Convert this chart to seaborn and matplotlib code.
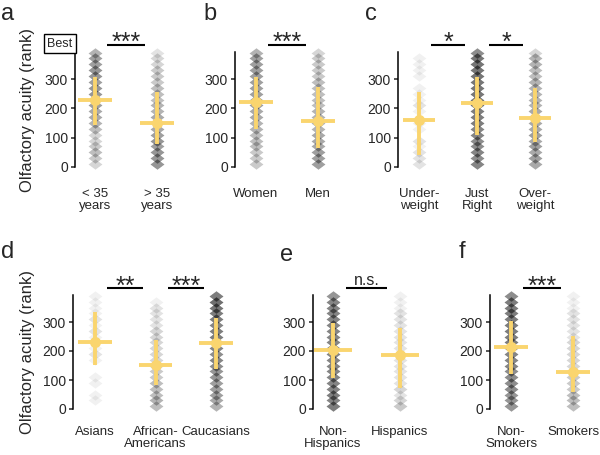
import numpy as np
import pandas as pd
import matplotlib
matplotlib.use("Agg")
import matplotlib.pyplot as plt
from matplotlib.path import Path
import seaborn as sns

sns.set_style("white")
plt.rcParams['font.family'] = ['Liberation Sans', 'DejaVu Sans']

# ---------------- data ----------------
# rank bins (centres, 20-rank wide) used for the strip counts (bottom -> top)
rank_bins = [10, 30, 50, 70, 90, 110, 130, 150, 170, 190,
             210, 230, 250, 270, 290, 310, 330, 350, 370, 388]

# panel a: age
age_groups = ["< 35\nyears", "> 35\nyears"]
age_counts = [[3, 4, 5, 4, 3, 3, 5, 6, 7, 7, 8, 8, 9, 9, 8, 9, 9, 8, 8, 6],
              [9, 9, 9, 8, 9, 8, 7, 7, 7, 6, 6, 5, 5, 5, 4, 4, 4, 3, 3, 2]]
age_mean = [230, 149]
age_lo = [143, 77]
age_hi = [306, 257]
age_sig = ["***"]

# panel b: sex
sex_groups = ["Women", "Men"]
sex_counts = [[4, 4, 4, 5, 5, 5, 6, 6, 7, 7, 8, 8, 8, 8, 8, 8, 8, 8, 8, 6],
              [8, 8, 8, 7, 7, 7, 6, 6, 6, 6, 5, 5, 5, 5, 5, 4, 4, 4, 4, 3]]
sex_mean = [220, 158]
sex_lo = [128, 66]
sex_hi = [308, 272]
sex_sig = ["***"]

# panel c: weight
wt_groups = ["Under-\nweight", "Just\nRight", "Over-\nweight"]
wt_counts = [[2, 2, 2, 1, 2, 0, 1, 1, 0, 1, 2, 1, 1, 1, 0, 1, 1, 1, 1, 0],
             [11, 10, 11, 10, 10, 11, 11, 12, 12, 12, 13, 13, 13, 13, 13, 13, 13, 13, 13, 10],
             [7, 8, 7, 8, 7, 8, 7, 7, 7, 7, 6, 6, 6, 6, 6, 5, 5, 6, 6, 3]]
wt_mean = [160, 219, 168]
wt_lo = [41, 109, 86]
wt_hi = [257, 308, 269]
wt_sig = ["*", "*"]

# panel d: race
race_groups = ["Asians", "African-\nAmericans", "Caucasians"]
race_counts = [[0, 1, 1, 0, 1, 1, 0, 0, 1, 2, 1, 1, 1, 2, 1, 2, 1, 1, 1, 1],
               [5, 6, 5, 5, 5, 4, 4, 4, 3, 3, 3, 3, 3, 3, 2, 2, 2, 2, 1, 0],
               [6, 7, 8, 8, 8, 9, 9, 10, 11, 10, 11, 11, 12, 12, 11, 12, 12, 13, 14, 12]]
race_mean = [232, 152, 227]
race_lo = [152, 83, 137]
race_hi = [336, 238, 313]
race_sig = ["**", "***"]

# panel e: ethnicity
eth_groups = ["Non-\nHispanics", "Hispanics"]
eth_counts = [[12, 11, 12, 11, 11, 11, 11, 11, 11, 11, 11, 11, 11, 11, 11, 11, 11, 11, 11, 9],
              [4, 3, 2, 3, 2, 2, 2, 2, 2, 2, 2, 2, 2, 2, 2, 2, 2, 1, 1, 1]]
eth_mean = [203, 185]
eth_lo = [106, 71]
eth_hi = [298, 280]
eth_sig = ["n.s."]

# panel f: smoking
smk_groups = ["Non-\nSmokers", "Smokers"]
smk_counts = [[9, 9, 9, 10, 10, 10, 10, 11, 11, 11, 12, 12, 12, 12, 12, 12, 12, 12, 12, 10],
              [5, 5, 5, 4, 4, 4, 4, 3, 3, 3, 3, 3, 2, 2, 2, 2, 2, 1, 1, 1]]
smk_mean = [213, 129]
smk_lo = [121, 60]
smk_hi = [304, 253]
smk_sig = ["***"]

yticks = [0, 100, 200, 300]
ylabel = "Olfactory acuity (rank)"

# ---------------- style ----------------
YELLOW = "#FAD56F"
diamond = Path([(-1, 0), (0, 0.75), (1, 0), (0, -0.75), (-1, 0)],
               [Path.MOVETO, Path.LINETO, Path.LINETO, Path.LINETO, Path.CLOSEPOLY])
W, H = 600, 455
YMAX = 392

fig = plt.figure(figsize=(6.0, 4.55), dpi=100)


def panel(letter, letter_xy, groups, counts, mean, lo, hi, sig,
          spine_px, c0_px, sp_px, y0_px, ppu, label_pad, show_ylabel=False,
          best=False):
    n = len(groups)
    xmin = -(c0_px - spine_px) / sp_px
    xmax = n - 1 + 0.55
    width_px = (xmax - xmin) * sp_px
    ax = fig.add_axes([spine_px / W, 1 - y0_px / H,
                       width_px / W, YMAX * ppu / H])
    rows = []
    for g, cnt in zip(groups, counts):
        for r, c in zip(rank_bins, cnt):
            rows += [(g, r)] * c
    df = pd.DataFrame(rows, columns=["group", "rank"])
    sns.stripplot(data=df, x="group", y="rank", order=groups, jitter=False,
                  marker=diamond, size=10, color="black", alpha=0.055,
                  linewidth=0, ax=ax)
    for coll in ax.collections:
        coll.set_clip_on(False)
    for i in range(n):
        ax.plot([i, i], [lo[i], hi[i]], color=YELLOW, lw=2.8,
                solid_capstyle="butt", zorder=5, clip_on=False)
        ax.plot([i - 0.28, i + 0.28], [mean[i], mean[i]], color=YELLOW, lw=2.8,
                solid_capstyle="butt", zorder=5, clip_on=False)
        ax.plot([i], [mean[i]], "o", color=YELLOW, ms=8, mew=0, zorder=6,
                clip_on=False)
    for k, s in enumerate(sig):
        ax.plot([k + 0.2, k + 0.8], [416, 416], color="black", lw=1.5,
                clip_on=False, solid_capstyle="butt")
        if s == "n.s.":
            ax.text(k + 0.5, 426, s, ha="center", va="baseline", fontsize=11.5,
                    clip_on=False)
        else:
            ax.text(k + 0.5, 398, s, ha="center", va="baseline", fontsize=18,
                    clip_on=False)
    ax.set_xlim(xmin, xmax)
    ax.set_ylim(0, YMAX)
    ax.set_yticks(yticks)
    ax.set_yticklabels([str(t) for t in yticks], fontsize=10)
    ax.set_xticks(range(n))
    ax.set_xticklabels(groups, fontsize=9.5, linespacing=1.05)
    ax.tick_params(axis="x", length=0, pad=label_pad)
    ax.tick_params(axis="y", length=3, width=1.1, direction="out", pad=2,
                   left=True)
    for side in ["top", "right", "bottom"]:
        ax.spines[side].set_visible(False)
    ax.spines["left"].set_linewidth(1.1)
    ax.spines["left"].set_color("black")
    ax.set_xlabel("")
    if show_ylabel:
        ax.set_ylabel(ylabel, fontsize=12)
        ax.yaxis.set_label_coords((35 - spine_px) / width_px, 0.5)
    else:
        ax.set_ylabel("")
    if best:
        ax.text(xmin - 0.04, YMAX + 8, "Best", ha="right", va="bottom",
                fontsize=9, clip_on=False,
                bbox=dict(boxstyle="square,pad=0.28", fc="white", ec="black",
                          lw=1))
    fig.text(letter_xy[0] / W, 1 - letter_xy[1] / H, letter, fontsize=17,
             ha="left", va="center")
    return ax


panel("a", (1, 14), age_groups, age_counts, age_mean, age_lo, age_hi, age_sig,
      75, 95, 62, 167, 0.2933, 15, show_ylabel=True, best=True)
panel("b", (203, 14), sex_groups, sex_counts, sex_mean, sex_lo, sex_hi, sex_sig,
      235, 256, 62, 167, 0.2933, 15)
panel("c", (365, 14), wt_groups, wt_counts, wt_mean, wt_lo, wt_hi, wt_sig,
      398, 419, 58, 167, 0.2933, 15)
panel("d", (1, 252), race_groups, race_counts, race_mean, race_lo, race_hi,
      race_sig, 73, 95, 60.5, 409, 0.29, 12, show_ylabel=True)
panel("e", (280, 255), eth_groups, eth_counts, eth_mean, eth_lo, eth_hi, eth_sig,
      313, 333, 67, 409, 0.29, 12)
panel("f", (459, 252), smk_groups, smk_counts, smk_mean, smk_lo, smk_hi, smk_sig,
      490, 511, 62, 409, 0.29, 12)

fig.savefig("out.png", dpi=100)
